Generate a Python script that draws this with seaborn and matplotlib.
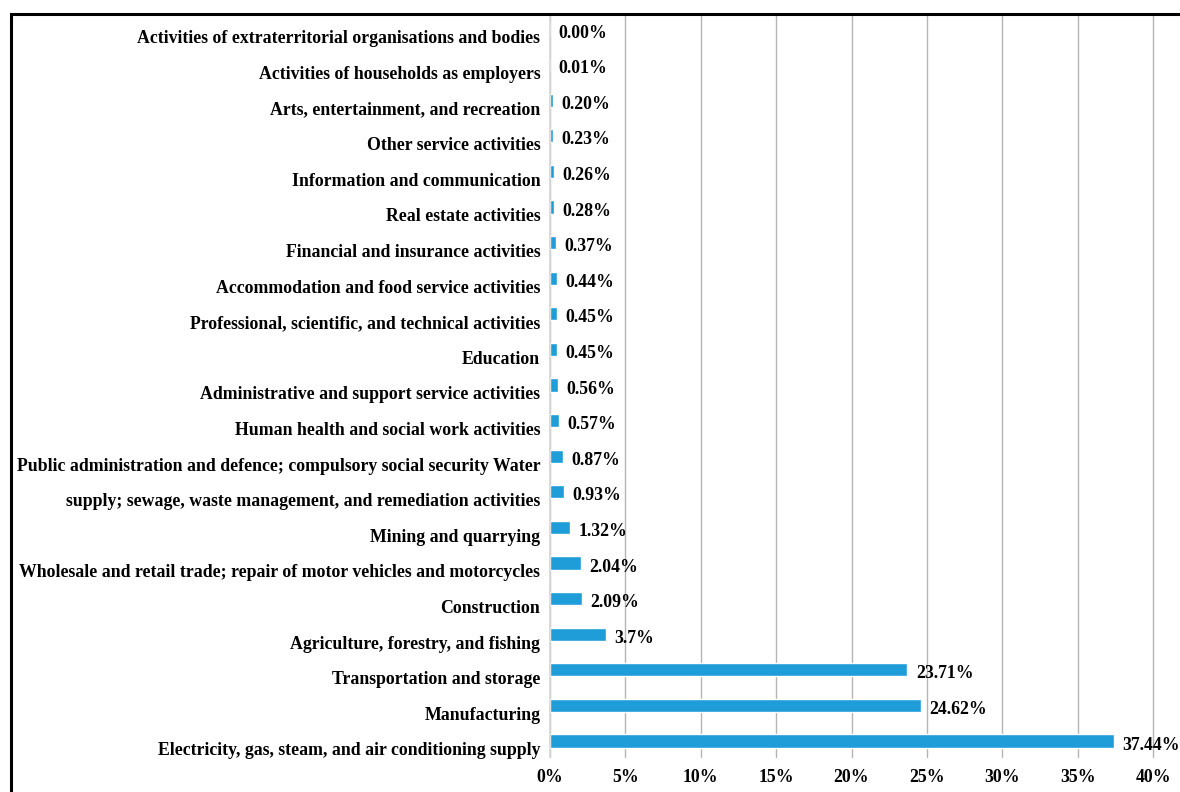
import matplotlib
matplotlib.use("Agg")
import matplotlib.pyplot as plt
import matplotlib.transforms as mtransforms
from matplotlib.patches import Rectangle
import seaborn as sns
import pandas as pd

# Share of each economic sector (top to bottom)
categories = [
    "Activities of extraterritorial organisations and bodies",
    "Activities of households as employers",
    "Arts, entertainment, and recreation",
    "Other service activities",
    "Information and communication",
    "Real estate activities",
    "Financial and insurance activities",
    "Accommodation and food service activities",
    "Professional, scientific, and technical activities",
    "Education",
    "Administrative and support service activities",
    "Human health and social work activities",
    "Public administration and defence; compulsory social security Water",
    "supply; sewage, waste management, and remediation activities",
    "Mining and quarrying",
    "Wholesale and retail trade; repair of motor vehicles and motorcycles",
    "Construction",
    "Agriculture, forestry, and fishing",
    "Transportation and storage",
    "Manufacturing",
    "Electricity, gas, steam, and air conditioning supply",
]
values = [0.00, 0.01, 0.20, 0.23, 0.26, 0.28, 0.37, 0.44, 0.45, 0.45,
          0.56, 0.57, 0.87, 0.93, 1.32, 2.04, 2.09, 3.7, 23.71, 24.62, 37.44]
value_labels = ["0.00%", "0.01%", "0.20%", "0.23%", "0.26%", "0.28%", "0.37%",
                "0.44%", "0.45%", "0.45%", "0.56%", "0.57%", "0.87%", "0.93%",
                "1.32%", "2.04%", "2.09%", "3.7%", "23.71%", "24.62%", "37.44%"]
x_ticks = [0, 5, 10, 15, 20, 25, 30, 35, 40]
x_tick_labels = ["0%", "5%", "10%", "15%", "20%", "25%", "30%", "35%", "40%"]

df = pd.DataFrame({"sector": categories, "share": values})

sns.set_theme(style="white")
plt.rcParams["font.family"] = ["Liberation Serif", "DejaVu Serif"]
plt.rcParams["font.weight"] = "bold"

FS = 12.8
W, H = 1180, 792
fig = plt.figure(figsize=(W / 100, H / 100), dpi=100)
fig.patch.set_facecolor("white")
ax = fig.add_axes([550 / W, 1 - 757 / H, (1153 - 550) / W, (757 - 14) / H])

sns.barplot(data=df, x="share", y="sector", orient="h", color="#1F9DD9",
            saturation=1, width=0.37, ax=ax)

ax.set_xlim(0, 40)
ax.set_ylim(20.45, -0.42)
ax.set_xticks(x_ticks)
ax.set_xticklabels(x_tick_labels, fontsize=FS, fontweight="bold")
ax.set_xlabel("")
ax.set_ylabel("")

ax.xaxis.grid(True, color="#B5B5B5", linewidth=1)
for gl in ax.get_xgridlines():
    gl.set_clip_on(False)
ax.yaxis.grid(False)
ax.set_axisbelow(True)
for side in ("top", "right", "bottom"):
    ax.spines[side].set_visible(False)
ax.spines["left"].set_color("#D9D9D9")
ax.spines["left"].set_linewidth(1.2)
ax.tick_params(axis="both", length=0)
ax.tick_params(axis="x", pad=9)
ax.tick_params(axis="y", pad=7)

for lab in ax.get_yticklabels():
    lab.set_fontsize(FS)
    lab.set_fontweight("bold")
    lab.set_color("black")
for lab in ax.get_xticklabels():
    lab.set_color("black")

# nudge category labels slightly below their bars
shift = mtransforms.ScaledTranslation(0, -8 / 100, fig.dpi_scale_trans)
for tick in ax.yaxis.get_major_ticks():
    tick.label1.set_transform(tick.label1.get_transform() + shift)

# value labels, set a touch below the bar centre
texts = ax.bar_label(ax.containers[0], labels=value_labels, padding=6,
                     fontsize=FS, fontweight="bold", color="black")
for t in texts:
    dx, dy = t.xyann
    t.xyann = (dx, dy - 3)

# outer frame
fig.patches.append(Rectangle((11 / W, -0.5), 2.0, 1 - 14 / H + 0.5,
                             transform=fig.transFigure, fill=False,
                             edgecolor="black", linewidth=2.2))

fig.savefig("out.png", dpi=100)
